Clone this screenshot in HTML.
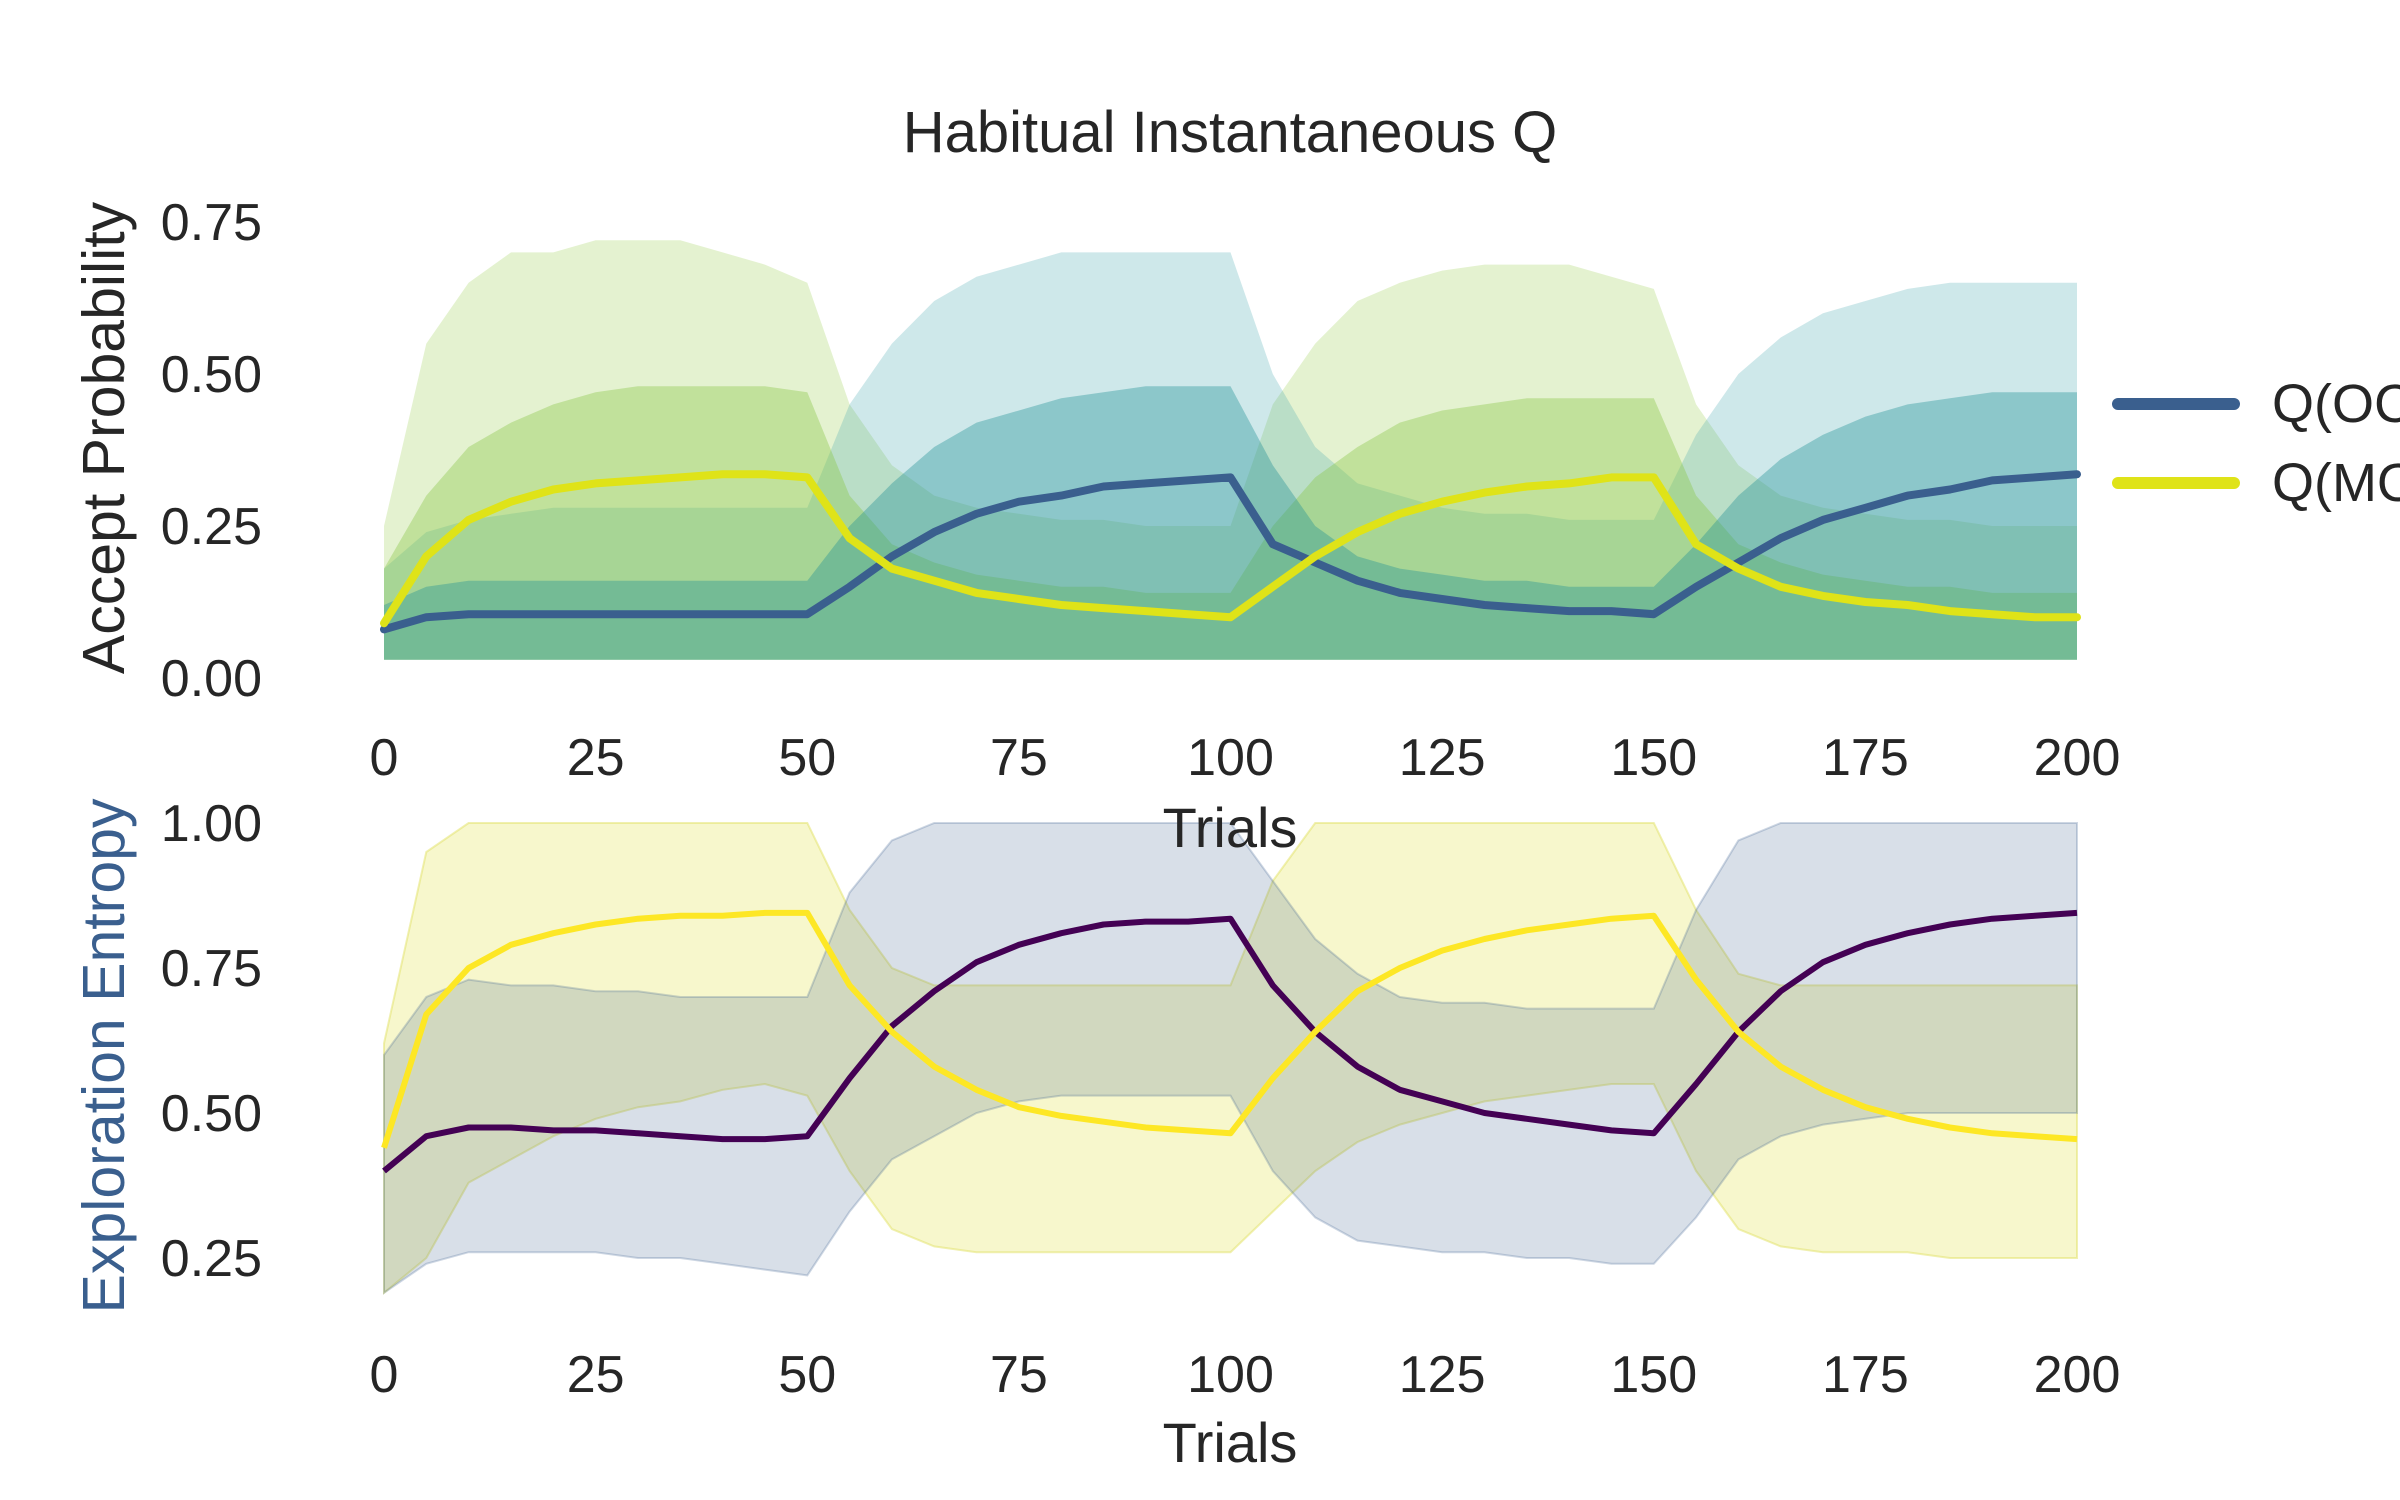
<!DOCTYPE html>
<html><head><meta charset="utf-8"><style>
html,body{margin:0;padding:0;background:#fff;}
svg{display:block;font-family:"Liberation Sans",Arial,sans-serif;}
</style></head><body>
<svg id="chart" width="2400" height="1500" viewBox="0 0 2400 1500" xmlns="http://www.w3.org/2000/svg">
<rect width="2400" height="1500" fill="#fff"/>
<text x="1230" y="152" font-size="58" text-anchor="middle" fill="#262626">Habitual Instantaneous Q</text>
<g id="topPanel"></g>
<g id="botPanel"></g>
<text transform="translate(124,438) rotate(-90)" font-size="59" text-anchor="middle" fill="#262626">Accept Probability</text>
<text transform="translate(124,1056) rotate(-90)" font-size="59" text-anchor="middle" fill="#3a5f8e">Exploration Entropy</text>
<text x="1230" y="847" font-size="56" text-anchor="middle" fill="#262626">Trials</text>
<text x="1230" y="1462" font-size="56" text-anchor="middle" fill="#262626">Trials</text>
<g>
<line x1="2118" y1="404" x2="2234" y2="404" stroke="#3a5f8e" stroke-width="12" stroke-linecap="round"/>
<text x="2272" y="422" font-size="54" fill="#262626">Q(OC)</text>
<line x1="2118" y1="483" x2="2234" y2="483" stroke="#dfe318" stroke-width="12" stroke-linecap="round"/>
<text x="2272" y="501" font-size="54" fill="#262626">Q(MO)</text>
</g>
</svg>
<script>
const trials=[0,5,10,15,20,25,30,35,40,45,50,55,60,65,70,75,80,85,90,95,100,105,110,115,120,125,130,135,140,145,150,155,160,165,170,175,180,185,190,195,200];
const xTicks=[0,25,50,75,100,125,150,175,200];
const topYTicks=[0,0.25,0.5,0.75];
const topYTickLabels=["0.00","0.25","0.50","0.75"];
const botYTicks=[0.25,0.5,0.75,1.0];
const botYTickLabels=["0.25","0.50","0.75","1.00"];
const qOC=[0.08,0.10,0.105,0.105,0.105,0.105,0.105,0.105,0.105,0.105,0.105,0.15,0.20,0.24,0.27,0.29,0.30,0.315,0.32,0.325,0.33,0.22,0.19,0.16,0.14,0.13,0.12,0.115,0.11,0.11,0.105,0.15,0.19,0.23,0.26,0.28,0.30,0.31,0.325,0.33,0.335];
const qMO=[0.09,0.20,0.26,0.29,0.31,0.32,0.325,0.33,0.335,0.335,0.33,0.23,0.18,0.16,0.14,0.13,0.12,0.115,0.11,0.105,0.10,0.15,0.20,0.24,0.27,0.29,0.305,0.315,0.32,0.33,0.33,0.22,0.18,0.15,0.135,0.125,0.12,0.11,0.105,0.10,0.10];
const moOuter=[0.25,0.55,0.65,0.70,0.70,0.72,0.72,0.72,0.70,0.68,0.65,0.45,0.35,0.30,0.28,0.27,0.26,0.26,0.25,0.25,0.25,0.45,0.55,0.62,0.65,0.67,0.68,0.68,0.68,0.66,0.64,0.45,0.35,0.30,0.28,0.27,0.26,0.26,0.25,0.25,0.25];
const moInner=[0.18,0.30,0.38,0.42,0.45,0.47,0.48,0.48,0.48,0.48,0.47,0.30,0.22,0.19,0.17,0.16,0.15,0.15,0.14,0.14,0.14,0.25,0.33,0.38,0.42,0.44,0.45,0.46,0.46,0.46,0.46,0.30,0.22,0.19,0.17,0.16,0.15,0.15,0.14,0.14,0.14];
const ocOuter=[0.18,0.24,0.26,0.27,0.28,0.28,0.28,0.28,0.28,0.28,0.28,0.45,0.55,0.62,0.66,0.68,0.70,0.70,0.70,0.70,0.70,0.50,0.38,0.32,0.30,0.28,0.27,0.27,0.26,0.26,0.26,0.40,0.50,0.56,0.60,0.62,0.64,0.65,0.65,0.65,0.65];
const ocInner=[0.12,0.15,0.16,0.16,0.16,0.16,0.16,0.16,0.16,0.16,0.16,0.25,0.32,0.38,0.42,0.44,0.46,0.47,0.48,0.48,0.48,0.35,0.25,0.20,0.18,0.17,0.16,0.16,0.15,0.15,0.15,0.22,0.30,0.36,0.40,0.43,0.45,0.46,0.47,0.47,0.47];
const traceFloor=[0.03,0.03,0.03,0.03,0.03,0.03,0.03,0.03,0.03,0.03,0.03,0.03,0.03,0.03,0.03,0.03,0.03,0.03,0.03,0.03,0.03,0.03,0.03,0.03,0.03,0.03,0.03,0.03,0.03,0.03,0.03,0.03,0.03,0.03,0.03,0.03,0.03,0.03,0.03,0.03,0.03];
const entOC=[0.40,0.46,0.475,0.475,0.47,0.47,0.465,0.46,0.455,0.455,0.46,0.56,0.65,0.71,0.76,0.79,0.81,0.825,0.83,0.83,0.835,0.72,0.64,0.58,0.54,0.52,0.50,0.49,0.48,0.47,0.465,0.55,0.64,0.71,0.76,0.79,0.81,0.825,0.835,0.84,0.845];
const entMO=[0.44,0.67,0.75,0.79,0.81,0.825,0.835,0.84,0.84,0.845,0.845,0.72,0.64,0.58,0.54,0.51,0.495,0.485,0.475,0.47,0.465,0.56,0.64,0.71,0.75,0.78,0.80,0.815,0.825,0.835,0.84,0.73,0.64,0.58,0.54,0.51,0.49,0.475,0.465,0.46,0.455];
const moUpper=[0.62,0.95,1,1,1,1,1,1,1,1,1,0.85,0.75,0.72,0.72,0.72,0.72,0.72,0.72,0.72,0.72,0.9,1,1,1,1,1,1,1,1,1,0.85,0.74,0.72,0.72,0.72,0.72,0.72,0.72,0.72,0.72];
const moLower=[0.19,0.25,0.38,0.42,0.46,0.49,0.51,0.52,0.54,0.55,0.53,0.40,0.30,0.27,0.26,0.26,0.26,0.26,0.26,0.26,0.26,0.33,0.40,0.45,0.48,0.50,0.52,0.53,0.54,0.55,0.55,0.40,0.30,0.27,0.26,0.26,0.26,0.25,0.25,0.25,0.25];
const ocUpper=[0.60,0.70,0.73,0.72,0.72,0.71,0.71,0.70,0.70,0.70,0.70,0.88,0.97,1,1,1,1,1,1,1,1,0.90,0.80,0.74,0.70,0.69,0.69,0.68,0.68,0.68,0.68,0.85,0.97,1,1,1,1,1,1,1,1];
const ocLower=[0.19,0.24,0.26,0.26,0.26,0.26,0.25,0.25,0.24,0.23,0.22,0.33,0.42,0.46,0.50,0.52,0.53,0.53,0.53,0.53,0.53,0.40,0.32,0.28,0.27,0.26,0.26,0.25,0.25,0.24,0.24,0.32,0.42,0.46,0.48,0.49,0.50,0.50,0.50,0.50,0.50];

const NS="http://www.w3.org/2000/svg";
const X0=384,X1=2077;
const xs=t=>X0+(X1-X0)*t/200;
const yTop=v=>678-v*(678-222)/0.75;
const yBot=v=>1258-(v-0.25)*(1258-823)/0.75;
function mk(tag,attrs,parent){const e=document.createElementNS(NS,tag);for(const k in attrs)e.setAttribute(k,attrs[k]);parent.appendChild(e);return e;}
function linePath(vals,ys){return vals.map((v,i)=>(i?'L':'M')+xs(trials[i]).toFixed(1)+','+ys(v).toFixed(1)).join('');}
function bandPath(lo,hi,ys){let d=hi.map((v,i)=>(i?'L':'M')+xs(trials[i]).toFixed(1)+','+ys(v).toFixed(1)).join('');for(let i=lo.length-1;i>=0;i--)d+='L'+xs(trials[i]).toFixed(1)+','+ys(lo[i]).toFixed(1);return d+'Z';}
const topG=document.getElementById('topPanel'),botG=document.getElementById('botPanel');

let e;
e=mk('path',{d:bandPath(traceFloor,moOuter,yTop),fill:'rgba(165,212,100,0.30)'},topG);


e=mk('path',{d:bandPath(traceFloor,ocOuter,yTop),fill:'rgba(60,165,170,0.25)'},topG);


e=mk('path',{d:bandPath(traceFloor,moInner,yTop),fill:'rgba(140,200,75,0.40)'},topG);


e=mk('path',{d:bandPath(traceFloor,ocInner,yTop),fill:'rgba(35,145,150,0.38)'},topG);


e=mk('path',{d:linePath(qOC,yTop),fill:'none',stroke:'#3a5f8e','stroke-width':8,'stroke-linejoin':'round','stroke-linecap':'round'},topG);


e=mk('path',{d:linePath(qMO,yTop),fill:'none',stroke:'#dfe318','stroke-width':8,'stroke-linejoin':'round','stroke-linecap':'round'},topG);



e=mk('path',{d:bandPath(moLower,moUpper,yBot),fill:'rgba(235,235,120,0.38)',stroke:'rgba(225,225,100,0.5)','stroke-width':2},botG);


e=mk('path',{d:bandPath(ocLower,ocUpper,yBot),fill:'rgba(58,95,142,0.2)',stroke:'rgba(58,95,142,0.25)','stroke-width':2},botG);


e=mk('path',{d:linePath(entOC,yBot),fill:'none',stroke:'#440154','stroke-width':6,'stroke-linejoin':'round'},botG);


e=mk('path',{d:linePath(entMO,yBot),fill:'none',stroke:'#fde725','stroke-width':6,'stroke-linejoin':'round'},botG);



xTicks.forEach(t=>{
  e=mk('text',{x:xs(t),y:775,'font-size':52,'text-anchor':'middle',fill:'#262626'},topG);e.textContent=t;
  
  
  e=mk('text',{x:xs(t),y:1392,'font-size':52,'text-anchor':'middle',fill:'#262626'},botG);e.textContent=t;
  
  
});
topYTicks.forEach((v,i)=>{
  e=mk('text',{x:262,y:yTop(v)+18,'font-size':52,'text-anchor':'end',fill:'#262626'},topG);e.textContent=topYTickLabels[i];
  
  
});
botYTicks.forEach((v,i)=>{
  e=mk('text',{x:262,y:yBot(v)+18,'font-size':52,'text-anchor':'end',fill:'#262626'},botG);e.textContent=botYTickLabels[i];
  
  
});
</script>
</body></html>
